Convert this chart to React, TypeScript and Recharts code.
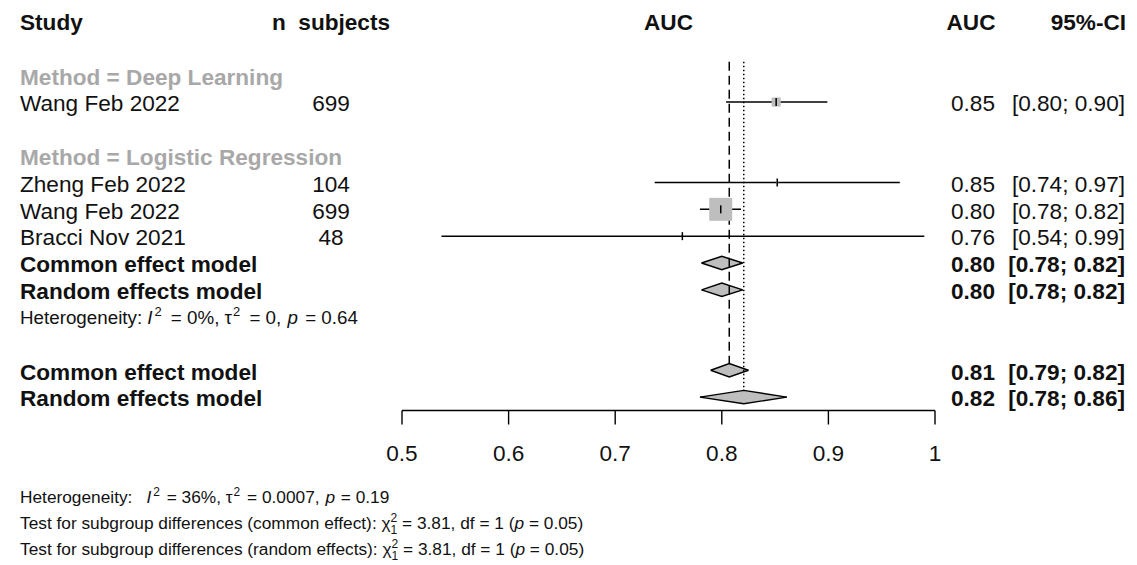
import React from 'react';
import { ComposedChart, XAxis, YAxis, Scatter, Area, ErrorBar, ReferenceLine } from 'recharts';

const FONT = '"Liberation Sans", Arial, Helvetica, sans-serif';
const W = 1137;
const H = 565;

// Subgroup headings
const groupLabels = ['Method = Deep Learning', 'Method = Logistic Regression'];
const groupRows = [1, 4];

// Individual studies
const studyLabels = ['Wang Feb 2022', 'Zheng Feb 2022', 'Wang Feb 2022', 'Bracci Nov 2021'];
const studyN = ['699', '104', '699', '48'];
const studyRows = [2, 5, 6, 7];
const studyAUC = [0.851, 0.852, 0.799, 0.763];
const studyLow = [0.804, 0.737, 0.7795, 0.537];
const studyHigh = [0.899, 0.967, 0.818, 0.99];
const studyWeight = [13.5, 0.6, 85.8, 0.1];
const studyAUCText = ['0.85', '0.85', '0.80', '0.76'];
const studyCIText = ['[0.80; 0.90]', '[0.74; 0.97]', '[0.78; 0.82]', '[0.54; 0.99]'];

// Pooled estimates (subgroup LR, then overall)
const pooledLabels = ['Common effect model', 'Random effects model', 'Common effect model', 'Random effects model'];
const pooledRows = [8, 9, 12, 13];
const pooledAUC = [0.8, 0.8, 0.807, 0.8206];
const pooledLow = [0.781, 0.781, 0.7896, 0.7795];
const pooledHigh = [0.8196, 0.8196, 0.825, 0.861];
const pooledAUCText = ['0.80', '0.80', '0.81', '0.82'];
const pooledCIText = ['[0.78; 0.82]', '[0.78; 0.82]', '[0.79; 0.82]', '[0.78; 0.86]'];

// Subgroup heterogeneity row
const hetRow = 10;
const subHetValues = ['0%', '0', '0.64'];
// Overall heterogeneity & tests
const overallHetValues = ['36%', '0.0007', '0.19'];
const testLabels = ['common effect', 'random effects'];
const testChi = ['3.81', '3.81'];
const testDf = ['1', '1'];
const testP = ['0.05', '0.05'];

// Axis
const tickValues = [0.5, 0.6, 0.7, 0.8, 0.9, 1];
const tickLabels = ['0.5', '0.6', '0.7', '0.8', '0.9', '1'];
const Y_DOMAIN: [number, number] = [0.5, 13.5];
const DIAMOND_HALF = 0.25;

const TEXT = '#111';
const GREY_TEXT = '#a8a8a8';
const FILL = '#bebebe';
const BIG = 22.6;
const SMALL = 17.3;

const COL_STUDY = 20;
const COL_N = 331;
const COL_AUC = 973;
const COL_CI = 1125;

type RowItem = {
  x: number;
  y: number;
  kind: 'group' | 'study' | 'pooled' | 'het';
  label?: string;
  n?: string;
  auc?: string;
  ci?: string;
};

const rowItems: RowItem[] = [
  ...groupLabels.map((l, i) => ({ x: 0.5, y: groupRows[i], kind: 'group' as const, label: l })),
  ...studyLabels.map((l, i) => ({
    x: 0.5,
    y: studyRows[i],
    kind: 'study' as const,
    label: l,
    n: studyN[i],
    auc: studyAUCText[i],
    ci: studyCIText[i],
  })),
  ...pooledLabels.map((l, i) => ({
    x: 0.5,
    y: pooledRows[i],
    kind: 'pooled' as const,
    label: l,
    auc: pooledAUCText[i],
    ci: pooledCIText[i],
  })),
  { x: 0.5, y: hetRow, kind: 'het' as const },
];

const maxW = Math.max(...studyWeight);
const squareData = studyAUC.map((v, i) => ({ x: v, y: studyRows[i], w: studyWeight[i] }));
const ciData = studyAUC.map((v, i) => ({
  x: v,
  y: studyRows[i],
  err: [v - studyLow[i], studyHigh[i] - v],
}));
const diamondData = pooledAUC.map((v, i) => [
  { x: pooledLow[i], band: [pooledRows[i], pooledRows[i]] },
  { x: v, band: [pooledRows[i] - DIAMOND_HALF, pooledRows[i] + DIAMOND_HALF] },
  { x: pooledHigh[i], band: [pooledRows[i], pooledRows[i]] },
]);

const HetText = ({
  x,
  y,
  vals,
  size,
  gap,
  sp,
}: {
  x: number;
  y: number;
  vals: string[];
  size: number;
  gap: number;
  sp: number;
}) => {
  const sup = size * 0.69;
  const up = size * 0.4;
  return (
    <text x={x} y={y} fontSize={size} fontFamily={FONT} fill={TEXT}>
      <tspan>{'Heterogeneity:'}</tspan>
      <tspan dx={gap} fontStyle="italic">I</tspan>
      <tspan dx={2} dy={-up} fontSize={sup}>2</tspan>
      <tspan dx={sp} dy={up}>{' = ' + vals[0] + ', \u03c4'}</tspan>
      <tspan dx={1} dy={-up} fontSize={sup}>2</tspan>
      <tspan dx={sp} dy={up}>{' = ' + vals[1] + ', '}</tspan>
      <tspan dx={1} fontStyle="italic">p</tspan>
      <tspan dx={sp / 2}>{' = ' + vals[2]}</tspan>
    </text>
  );
};

const TestText = ({ x, y, i }: { x: number; y: number; i: number }) => (
  <text x={x} y={y} fontSize={SMALL} fontFamily={FONT} fill={TEXT}>
    <tspan>{'Test for subgroup differences (' + testLabels[i] + '): \u03c7'}</tspan>
    <tspan dy={-7} fontSize={12}>2</tspan>
    <tspan dx={-6.7} dy={12} fontSize={12}>{testDf[i]}</tspan>
    <tspan dy={-5}>{' = ' + testChi[i] + ', df = ' + testDf[i] + ' ('}</tspan>
    <tspan fontStyle="italic">p</tspan>
    <tspan>{' = ' + testP[i] + ')'}</tspan>
  </text>
);

const RowText = (props: any) => {
  const { cy, payload } = props;
  if (cy == null || !payload) return <g />;
  const p = payload as RowItem;
  const base = cy + 9.3;
  if (p.kind === 'group') {
    return (
      <text x={COL_STUDY} y={base} fontSize={BIG} fontWeight="bold" fontFamily={FONT} fill={GREY_TEXT}>
        {p.label}
      </text>
    );
  }
  if (p.kind === 'het') {
    return <HetText x={COL_STUDY} y={cy + 7} vals={subHetValues} size={18.8} gap={5} sp={4} />;
  }
  const bold = p.kind === 'pooled';
  const fw = bold ? 'bold' : 'normal';
  return (
    <g>
      <text x={COL_STUDY} y={base} fontSize={BIG} fontWeight={fw} fontFamily={FONT} fill={TEXT}>
        {p.label}
      </text>
      {p.n && (
        <text x={COL_N} y={base} fontSize={BIG} fontFamily={FONT} fill={TEXT} textAnchor="middle">
          {p.n}
        </text>
      )}
      <text x={COL_AUC} y={base} fontSize={BIG} fontWeight={fw} fontFamily={FONT} fill={TEXT} textAnchor="middle">
        {p.auc}
      </text>
      <text x={COL_CI} y={base} fontSize={BIG} fontWeight={fw} fontFamily={FONT} fill={TEXT} textAnchor="end">
        {p.ci}
      </text>
    </g>
  );
};

const Square = (props: any) => {
  const { cx, cy, payload } = props;
  if (cx == null || cy == null) return <g />;
  const s = 23 * Math.sqrt(payload.w / maxW);
  return <rect x={cx - s / 2} y={cy - s / 2} width={s} height={s} fill={FILL} />;
};

const Tick = (props: any) => {
  const { cx, cy } = props;
  if (cx == null || cy == null) return <g />;
  return <line x1={cx} x2={cx} y1={cy - 4} y2={cy + 4} stroke="#000" strokeWidth={1.5} />;
};

export default function App() {
  return (
    <div style={{ position: 'absolute', left: 0, top: 0, width: W, height: H, background: '#fff' }}>
      <ComposedChart
        width={W}
        height={H}
        margin={{ top: 61.8, right: 202, bottom: 94.5, left: 402 }}
        style={{ fontFamily: FONT }}
      >
        <XAxis
          type="number"
          dataKey="x"
          domain={[0.5, 1]}
          ticks={tickValues}
          interval={0}
          height={60}
          tickSize={14}
          tickMargin={20}
          tickFormatter={(v: number) => tickLabels[tickValues.indexOf(v)] ?? String(v)}
          axisLine={{ stroke: '#000', strokeWidth: 1.4 }}
          tickLine={{ stroke: '#000', strokeWidth: 1.4 }}
          tick={{ fontSize: BIG, fill: TEXT, fontFamily: FONT }}
        />
        <YAxis type="number" dataKey="y" domain={Y_DOMAIN} reversed hide />

        {diamondData.map((d, i) => (
          <Area
            key={'dia' + i}
            data={d}
            dataKey="band"
            type="linear"
            fill={FILL}
            fillOpacity={1}
            stroke="#000"
            strokeWidth={1.4}
            dot={false}
            activeDot={false}
            isAnimationActive={false}
          />
        ))}

        <ReferenceLine
          segment={[
            { x: pooledAUC[2], y: Y_DOMAIN[0] },
            { x: pooledAUC[2], y: pooledRows[2] - DIAMOND_HALF },
          ]}
          stroke="#000"
          strokeWidth={1.5}
          strokeDasharray="9 5"
          ifOverflow="visible"
        />
        <ReferenceLine
          segment={[
            { x: pooledAUC[3], y: Y_DOMAIN[0] },
            { x: pooledAUC[3], y: pooledRows[3] - DIAMOND_HALF },
          ]}
          stroke="#000"
          strokeWidth={1.5}
          strokeDasharray="1.5 2.5"
          ifOverflow="visible"
        />

        <Scatter data={squareData} shape={Square} isAnimationActive={false} />
        <Scatter data={ciData} shape={Tick} isAnimationActive={false}>
          <ErrorBar dataKey="err" direction="x" width={0} stroke="#000" strokeWidth={1.5} />
        </Scatter>
        <Scatter data={rowItems} shape={RowText} isAnimationActive={false} />
      </ComposedChart>

      <svg
        width={W}
        height={H}
        style={{ position: 'absolute', left: 0, top: 0, pointerEvents: 'none' }}
      >
        <g fontFamily={FONT} fontSize={BIG} fontWeight="bold" fill={TEXT}>
          <text x={COL_STUDY} y={30}>Study</text>
          <text x={COL_N} y={30} textAnchor="middle">{'n\u00a0 subjects'}</text>
          <text x={668.5} y={30} textAnchor="middle">AUC</text>
          <text x={971} y={30} textAnchor="middle">AUC</text>
          <text x={COL_CI + 1} y={30} textAnchor="end">95%-CI</text>
        </g>
        <HetText x={COL_STUDY} y={502.5} vals={overallHetValues} size={SMALL} gap={14} sp={2} />
        <TestText x={COL_STUDY} y={528.5} i={0} />
        <TestText x={COL_STUDY} y={554.5} i={1} />
      </svg>
    </div>
  );
}
